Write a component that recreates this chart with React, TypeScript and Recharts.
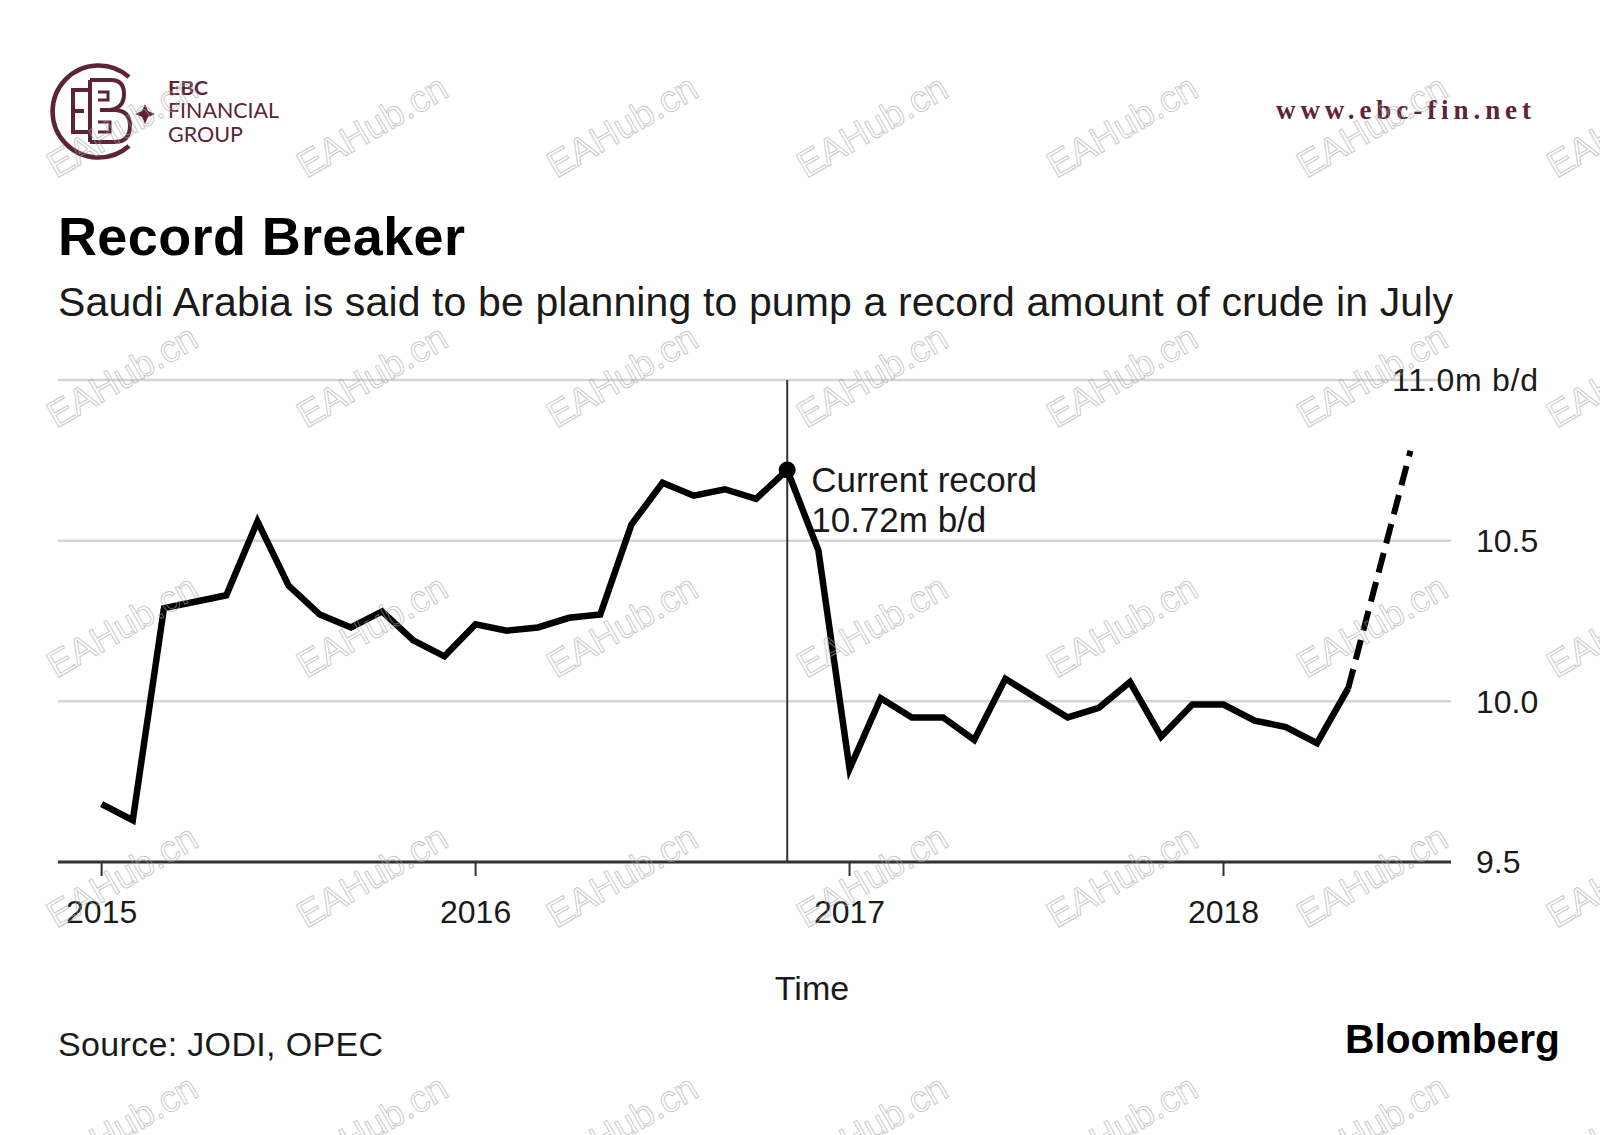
import React from 'react';
import { LineChart, Line, XAxis, YAxis, CartesianGrid, ReferenceLine, ReferenceDot } from 'recharts';

const W = 1600;
const H = 1135;
const FONT = '"Liberation Sans", Arial, Helvetica, sans-serif';
const INK = '#1a1a1a';
const BRAND = '#5c2434';

const START_YEAR = 2015;
const MONTH_NAMES = ['Jan', 'Feb', 'Mar', 'Apr', 'May', 'Jun', 'Jul', 'Aug', 'Sep', 'Oct', 'Nov', 'Dec'];

// Saudi crude output, million barrels a day, Jan 2015 - May 2018
const output2015 = [9.68, 9.63, 10.29, 10.31, 10.33, 10.56, 10.36, 10.27, 10.23, 10.28, 10.19, 10.14];
const output2016 = [10.24, 10.22, 10.23, 10.26, 10.27, 10.55, 10.68, 10.64, 10.66, 10.63, 10.72, 10.47];
const output2017 = [9.79, 10.01, 9.95, 9.95, 9.88, 10.07, 10.01, 9.95, 9.98, 10.06, 9.89, 9.99];
const output2018 = [9.99, 9.94, 9.92, 9.87, 10.04];
const monthlyOutput = [...output2015, ...output2016, ...output2017, ...output2018];

// planned July 2018 level (dashed)
const plannedJuly = 10.78;
const recordValue = 10.72;

const yearTicks = [2015, 2016, 2017, 2018];
const valueTicks = [9.5, 10, 10.5, 11];

const lastActual = monthlyOutput.length - 1;
const julyIndex = lastActual + 2;
const recordIndex = monthlyOutput.indexOf(recordValue);

const rows = Array.from({ length: julyIndex + 1 }, (_, t) => ({
  t,
  month: `${MONTH_NAMES[t % 12]} ${START_YEAR + Math.floor(t / 12)}`,
  output: t <= lastActual ? monthlyOutput[t] : null,
  plan: t === lastActual ? monthlyOutput[t] : t === julyIndex ? plannedJuly : null,
}));

const ValueTick = (props: any) => {
  const { x, y, payload } = props;
  const v = payload.value as number;
  const isTop = v === valueTicks[valueTicks.length - 1];
  if (isTop) {
    return (
      <text x={x - 84} y={y} dy="0.355em" fontSize={32} fill={INK} fontFamily={FONT} textLength={146} lengthAdjust="spacing">
        {`${v.toFixed(1)}m b/d`}
      </text>
    );
  }
  return (
    <text x={x} y={y} dy="0.355em" textAnchor="start" fontSize={32} fill={INK} fontFamily={FONT}>
      {v.toFixed(1)}
    </text>
  );
};

const RecordMarker = (props: any) => {
  const { cx, cy } = props;
  return (
    <g>
      <circle cx={cx} cy={cy} r={8.5} fill="#000" />
      <text x={cx + 24} y={cy + 22} fontSize={35} fill={INK} fontFamily={FONT}>
        Current record
      </text>
      <text x={cx + 24} y={cy + 62} fontSize={35} fill={INK} fontFamily={FONT}>
        {`${recordValue}m b/d`}
      </text>
    </g>
  );
};

const Logo = () => (
  <g stroke={BRAND} fill="none" strokeWidth={4}>
    <path d="M 129 77 A 46 46 0 1 0 129 146" strokeWidth={4.5} />
    <path d="M 88 90 H 73 V 132 H 88 M 73 111 H 84" />
    <path d="M 90 80 V 142" />
    <path d="M 90 80 H 111 Q 124 80 124 94 Q 124 108 110 110 H 100" />
    <path d="M 104 110 H 114 Q 130 110 130 126 Q 130 142 114 142 H 90" />
    <path d="M 98 92 H 108 V 100 H 98 M 98 122 H 110 V 132 H 98" strokeWidth={3} />
    <path d="M 145 104 L 148 111 L 155 114 L 148 117 L 145 124 L 142 117 L 135 114 L 142 111 Z" fill={BRAND} stroke="none" />
  </g>
);

const Watermarks = () => {
  const marks = [];
  for (let r = 0; r < 5; r++) {
    for (let c = 0; c < 7; c++) {
      const x = 122 + c * 250;
      const y = 126 + r * 250;
      marks.push(
        <text
          key={`${r}-${c}`}
          x={x}
          y={y}
          dy="0.35em"
          textAnchor="middle"
          transform={`rotate(-30 ${x} ${y})`}
          fontSize={37}
          fontFamily={FONT}
          fill="none"
          stroke="rgba(165,165,165,0.6)"
          strokeWidth={1}
        >
          EAHub.cn
        </text>
      );
    }
  }
  return <g>{marks}</g>;
};

export default function App() {
  return (
    <div style={{ position: 'absolute', left: 0, top: 0, width: W, height: H, background: '#fff', fontFamily: FONT, overflow: 'hidden' }}>
      <div style={{ position: 'absolute', left: 0, top: 0 }}>
        <LineChart width={W} height={H} data={rows} margin={{ top: 380, right: 0, bottom: 213, left: 58 }}>
          <CartesianGrid horizontal vertical={false} stroke="#d4d4d4" strokeWidth={2.5} />
          <XAxis
            type="number"
            dataKey="t"
            domain={[-1.4, 43.3]}
            ticks={yearTicks.map((y) => (y - START_YEAR) * 12)}
            tickFormatter={(t: number) => String(START_YEAR + t / 12)}
            axisLine={{ stroke: '#333', strokeWidth: 3 }}
            tickLine={{ stroke: '#333', strokeWidth: 2 }}
            tickSize={14}
            tickMargin={24}
            tick={{ fontSize: 32, fill: INK, fontFamily: FONT }}
            height={60}
          />
          <YAxis
            orientation="right"
            domain={[9.5, 11]}
            ticks={valueTicks}
            axisLine={false}
            tickLine={false}
            tickSize={0}
            tickMargin={25}
            width={149}
            tick={<ValueTick />}
          />
          <ReferenceLine x={recordIndex} stroke="#333" strokeWidth={2} />
          <Line
            type="linear"
            dataKey="output"
            stroke="#000"
            strokeWidth={6.5}
            dot={false}
            isAnimationActive={false}
          />
          <Line
            type="linear"
            dataKey="plan"
            stroke="#000"
            strokeWidth={6}
            strokeDasharray="20 10"
            dot={false}
            connectNulls
            isAnimationActive={false}
          />
          <ReferenceDot x={recordIndex} y={recordValue} r={8.5} shape={<RecordMarker />} />
        </LineChart>
      </div>
      <svg width={W} height={H} style={{ position: 'absolute', left: 0, top: 0, pointerEvents: 'none' }}>
        <Logo />
        <text x={168} y={95} fontSize={19} fontWeight={700} fill={BRAND} fontFamily="Lato, Inter, sans-serif" textLength={40} lengthAdjust="spacingAndGlyphs">EBC</text>
        <text x={168} y={118} fontSize={21} fill={BRAND} fontFamily="Lato, Inter, sans-serif" textLength={111} lengthAdjust="spacingAndGlyphs">FINANCIAL</text>
        <text x={168} y={141.5} fontSize={21} fill={BRAND} fontFamily="Lato, Inter, sans-serif" textLength={75} lengthAdjust="spacingAndGlyphs">GROUP</text>
        <text x={1276} y={119} fontSize={27} fontWeight={700} fill={BRAND} fontFamily='"Liberation Serif", "DejaVu Serif", serif' textLength={255} lengthAdjust="spacing">www.ebc-fin.net</text>

        <text x={58} y={255} fontSize={54} fontWeight={700} fill="#000" textLength={407} lengthAdjust="spacing">Record Breaker</text>
        <text x={58} y={316} fontSize={41} fill={INK} textLength={1395} lengthAdjust="spacing">
          Saudi Arabia is said to be planning to pump a record amount of crude in July
        </text>

        <text x={812} y={1000} fontSize={34} fill={INK} textAnchor="middle">Time</text>
        <text x={58} y={1056} fontSize={34} fill={INK} textLength={325} lengthAdjust="spacing">Source: JODI, OPEC</text>
        <text x={1345} y={1053} fontSize={41} fontWeight={900} fill="#000" textLength={215} lengthAdjust="spacingAndGlyphs">Bloomberg</text>

        <Watermarks />
      </svg>
    </div>
  );
}
